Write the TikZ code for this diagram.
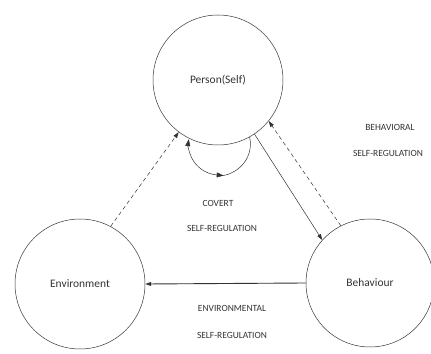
\documentclass[tikz,border=0pt]{standalone}
\usepackage{fontspec}
\setmainfont{Carlito}
\usepackage{tikz}
\usetikzlibrary{arrows.meta, calc}
\definecolor{inkgray}{HTML}{333333}

\begin{document}
\begin{tikzpicture}[x=1bp, y=1bp,
        agent/.style={circle, draw=inkgray, line width=0.5pt, minimum size=130bp, inner sep=0pt, text=inkgray, font=\fontsize{11.5}{13}\selectfont},
        caption/.style={text=inkgray, font=\fontsize{9.5}{11}\selectfont, inner sep=1pt},
        tip/.style={-{Triangle[length=6pt, width=4pt]}}]
                \useasboundingbox (0,0) rectangle (431,354);

                \node[agent] (person) at (218, 274) {Person(Self)};
                \node[agent] (environment) at (80, 70) {Environment};
                \node[agent, minimum size=128bp] (behaviour) at (370, 71) {Behaviour};

                % labels
                \node[caption] (covert) at (218, 151) {COVERT};
                \node[caption] (covertsr) at (222, 126) {SELF-REGULATION};
                \node[caption] (environmental) at (232, 46) {ENVIRONMENTAL};
                \node[caption] (environmentalsr) at (232, 19) {SELF-REGULATION};
                \node[caption] (behavioral) at (390, 227) {BEHAVIORAL};
                \node[caption] (behavioralsr) at (388, 201) {SELF-REGULATION};

                % links
                \draw [tip, inkgray, line width=0.5pt, dash pattern=on 4pt off 3pt] (environment.62) -- (person.233);
                \draw [tip, inkgray, line width=0.5pt] (person.304) -- (behaviour.138);
                \draw [tip, inkgray, line width=0.5pt, dash pattern=on 4pt off 3pt] (behaviour.117) -- (person.321);
                \draw [tip, inkgray, line width=0.9pt] (behaviour.west) -- (environment.east);

                % covert loop
                \draw [-{Triangle[reversed, length=7pt, width=5pt]}, inkgray, line width=0.5pt] (person.299) arc[start angle=13, end angle=-95, radius=31] coordinate (loopmid);
                \draw [-{Triangle[length=7pt, width=5pt]}, inkgray, line width=0.5pt] (loopmid) arc[start angle=-95, end angle=-189, radius=31];

            \end{tikzpicture}
\end{document}
